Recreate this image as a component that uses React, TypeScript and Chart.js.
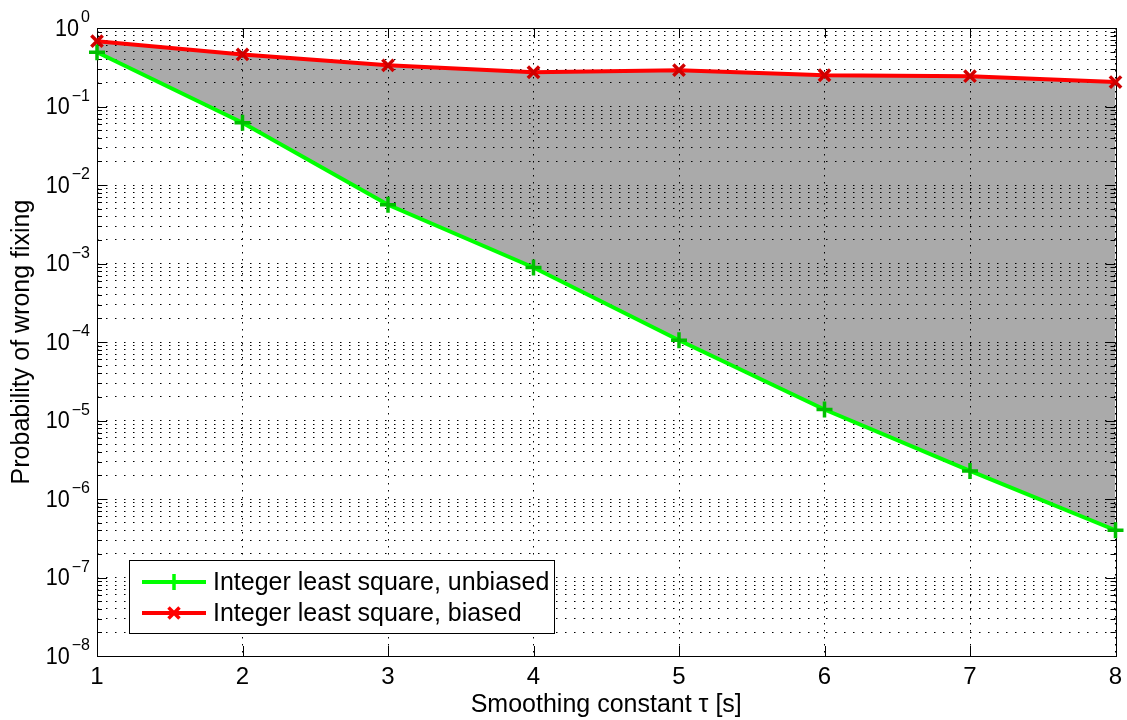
import React, { useEffect, useRef } from 'react';
import { Chart, registerables } from 'chart.js';

Chart.register(...registerables);

// ---- data ----
const tau = [1, 2, 3, 4, 5, 6, 7, 8];
const unbiased = [0.49, 0.062, 5.6e-3, 8.9e-4, 1.05e-4, 1.38e-5, 2.28e-6, 4.0e-7];
const biased = [0.68, 0.46, 0.335, 0.273, 0.29, 0.25, 0.243, 0.205];
const xTickValues = [1, 2, 3, 4, 5, 6, 7, 8];
const yDecades = [-8, -7, -6, -5, -4, -3, -2, -1, 0];
const yTickBase = '10';
const seriesLabels = ['Integer least square, unbiased', 'Integer least square, biased'];
const xTitle = 'Smoothing constant τ [s]';
const yTitle = 'Probability of wrong fixing';

const FONT = "'Liberation Sans', Arial, Helvetica, sans-serif";
const GREEN = '#00ff00';
const RED = '#ff0000';
const FILL = '#aaaaaa';

const expText = (e: number) => (e < 0 ? '\u2212' + String(-e) : String(e));

const framePlugin = {
  id: 'frame',
  beforeDatasetsDraw(chart: any) {
    const { ctx, chartArea } = chart;
    const { left, right, top, bottom } = chartArea;
    const xs = chart.scales.x;
    const ys = chart.scales.y;
    ctx.save();
    ctx.strokeStyle = '#000';
    ctx.lineWidth = 1;
    ctx.setLineDash([]);
    ctx.beginPath();
    for (const d of yDecades) {
      for (let m = 1; m <= 9; m++) {
        const v = m * Math.pow(10, d);
        const y = Math.round(ys.getPixelForValue(v)) + 0.5;
        const len = m === 1 ? 10 : 5;
        ctx.moveTo(left, y);
        ctx.lineTo(left + len, y);
        ctx.moveTo(right, y);
        ctx.lineTo(right - len, y);
        if (d === 0) break;
      }
    }
    for (const t of xTickValues) {
      const x = Math.round(xs.getPixelForValue(t)) + 0.5;
      ctx.moveTo(x, bottom);
      ctx.lineTo(x, bottom - 10);
      ctx.moveTo(x, top);
      ctx.lineTo(x, top + 10);
    }
    ctx.stroke();
    ctx.strokeRect(Math.round(left) + 0.5, Math.round(top) + 0.5, Math.round(right - left), Math.round(bottom - top));

    // y tick labels: 10 with superscript exponent
    ctx.fillStyle = '#000';
    const rightEdge = left - 7;
    for (const d of yDecades) {
      const y = ys.getPixelForValue(Math.pow(10, d));
      const ex = expText(d);
      ctx.font = `16px ${FONT}`;
      const ew = ctx.measureText(ex).width;
      ctx.textAlign = 'right';
      ctx.textBaseline = 'middle';
      ctx.fillText(ex, rightEdge, y - 10);
      ctx.font = `24px ${FONT}`;
      const bx = rightEdge - ew - 2;
      ctx.save();
      ctx.translate(bx, y + 1);
      ctx.scale(0.9, 1);
      ctx.fillText(yTickBase, 0, 0);
      ctx.restore();
    }
    ctx.restore();
  },
};

const legendPlugin = {
  id: 'customLegend',
  afterDatasetsDraw(chart: any) {
    const { ctx } = chart;
    const bx = 129.5, by = 560.5, bw = 425, bh = 73;
    ctx.save();
    ctx.fillStyle = '#fff';
    ctx.fillRect(bx, by, bw, bh);
    ctx.strokeStyle = '#000';
    ctx.lineWidth = 1;
    ctx.strokeRect(bx, by, bw, bh);
    const rows = [
      { y: 582, color: GREEN, label: seriesLabels[0], marker: 'plus' },
      { y: 613, color: RED, label: seriesLabels[1], marker: 'x' },
    ];
    for (const r of rows) {
      ctx.strokeStyle = r.color;
      ctx.lineWidth = 4;
      ctx.beginPath();
      ctx.moveTo(142, r.y);
      ctx.lineTo(206, r.y);
      ctx.stroke();
      const cx = 174;
      ctx.lineWidth = 3.5;
      ctx.beginPath();
      if (r.marker === 'plus') {
        ctx.moveTo(cx - 8, r.y); ctx.lineTo(cx + 8, r.y);
        ctx.moveTo(cx, r.y - 8); ctx.lineTo(cx, r.y + 8);
      } else {
        const o = 5.5;
        ctx.moveTo(cx - o, r.y - o); ctx.lineTo(cx + o, r.y + o);
        ctx.moveTo(cx - o, r.y + o); ctx.lineTo(cx + o, r.y - o);
      }
      ctx.stroke();
      ctx.fillStyle = '#000';
      ctx.font = `25px ${FONT}`;
      ctx.textBaseline = 'middle';
      ctx.textAlign = 'left';
      ctx.fillText(r.label, 213, r.y + 1);
    }
    ctx.restore();
  },
};

export default function App() {
  const canvasRef = useRef<HTMLCanvasElement | null>(null);

  useEffect(() => {
    if (!canvasRef.current) return;
    const chart = new Chart(canvasRef.current, {
      type: 'line',
      data: {
        datasets: [
          {
            label: seriesLabels[1],
            data: tau.map((t, i) => ({ x: t, y: biased[i] })),
            borderColor: RED,
            backgroundColor: FILL,
            borderWidth: 4,
            pointStyle: 'crossRot',
            pointRadius: 8,
            pointBorderWidth: 3.5,
            pointBorderColor: '#d00000',
            pointHoverRadius: 8,
            fill: { target: '+1', above: FILL, below: FILL },
            clip: false,
            tension: 0,
          },
          {
            label: seriesLabels[0],
            data: tau.map((t, i) => ({ x: t, y: unbiased[i] })),
            borderColor: GREEN,
            backgroundColor: GREEN,
            borderWidth: 4,
            pointStyle: 'cross',
            pointRadius: 8,
            pointBorderWidth: 3.5,
            pointBorderColor: '#00c000',
            pointHoverRadius: 8,
            fill: false,
            clip: false,
            tension: 0,
          },
        ],
      },
      options: {
        animation: false,
        responsive: true,
        maintainAspectRatio: false,
        events: [],
        layout: { padding: { top: 28, right: 11, left: 0, bottom: 0 } },
        plugins: {
          legend: { display: false },
          tooltip: { enabled: false },
          filler: { drawTime: 'beforeDraw' },
        },
        scales: {
          x: {
            type: 'linear',
            min: 1,
            max: 8,
            afterBuildTicks: (scale: any) => {
              scale.ticks = xTickValues.map((v) => ({ value: v }));
            },
            afterFit: (scale: any) => {
              scale.height = 64;
              scale.paddingLeft = 0;
              scale.paddingRight = 0;
            },
            ticks: {
              autoSkip: false,
              color: '#000',
              padding: 7,
              font: { family: FONT, size: 24 },
              callback: (v: any) => String(v),
            },
            grid: {
              color: '#000',
              lineWidth: 1,
              drawTicks: false,
            },
            border: { display: false, dash: [1.5, 5.5] },
            title: {
              display: true,
              text: xTitle,
              color: '#000',
              font: { family: FONT, size: 25 },
              padding: { top: 0, bottom: 0 },
            },
          },
          y: {
            type: 'logarithmic',
            min: 1e-8,
            max: 1,
            afterBuildTicks: (scale: any) => {
              const t: any[] = [];
              for (const d of yDecades) {
                for (let m = 1; m <= 9; m++) {
                  t.push({ value: m * Math.pow(10, d), major: m === 1 });
                  if (d === 0) break;
                }
              }
              scale.ticks = t;
            },
            afterFit: (scale: any) => {
              scale.width = 97;
            },
            ticks: {
              display: false,
              autoSkip: false,
            },
            grid: {
              color: '#000',
              lineWidth: 1,
              drawTicks: false,
            },
            border: { display: false, dash: [1.5, 7.5] },
            title: {
              display: true,
              text: yTitle,
              color: '#000',
              font: { family: FONT, size: 25 },
              padding: { top: 7, bottom: 0 },
            },
          },
        },
      },
      plugins: [framePlugin, legendPlugin],
    } as any);
    return () => chart.destroy();
  }, []);

  return (
    <div style={{ position: 'fixed', left: 0, top: 0, width: 1127, height: 720, background: '#fff' }}>
      <canvas ref={canvasRef} />
    </div>
  );
}
